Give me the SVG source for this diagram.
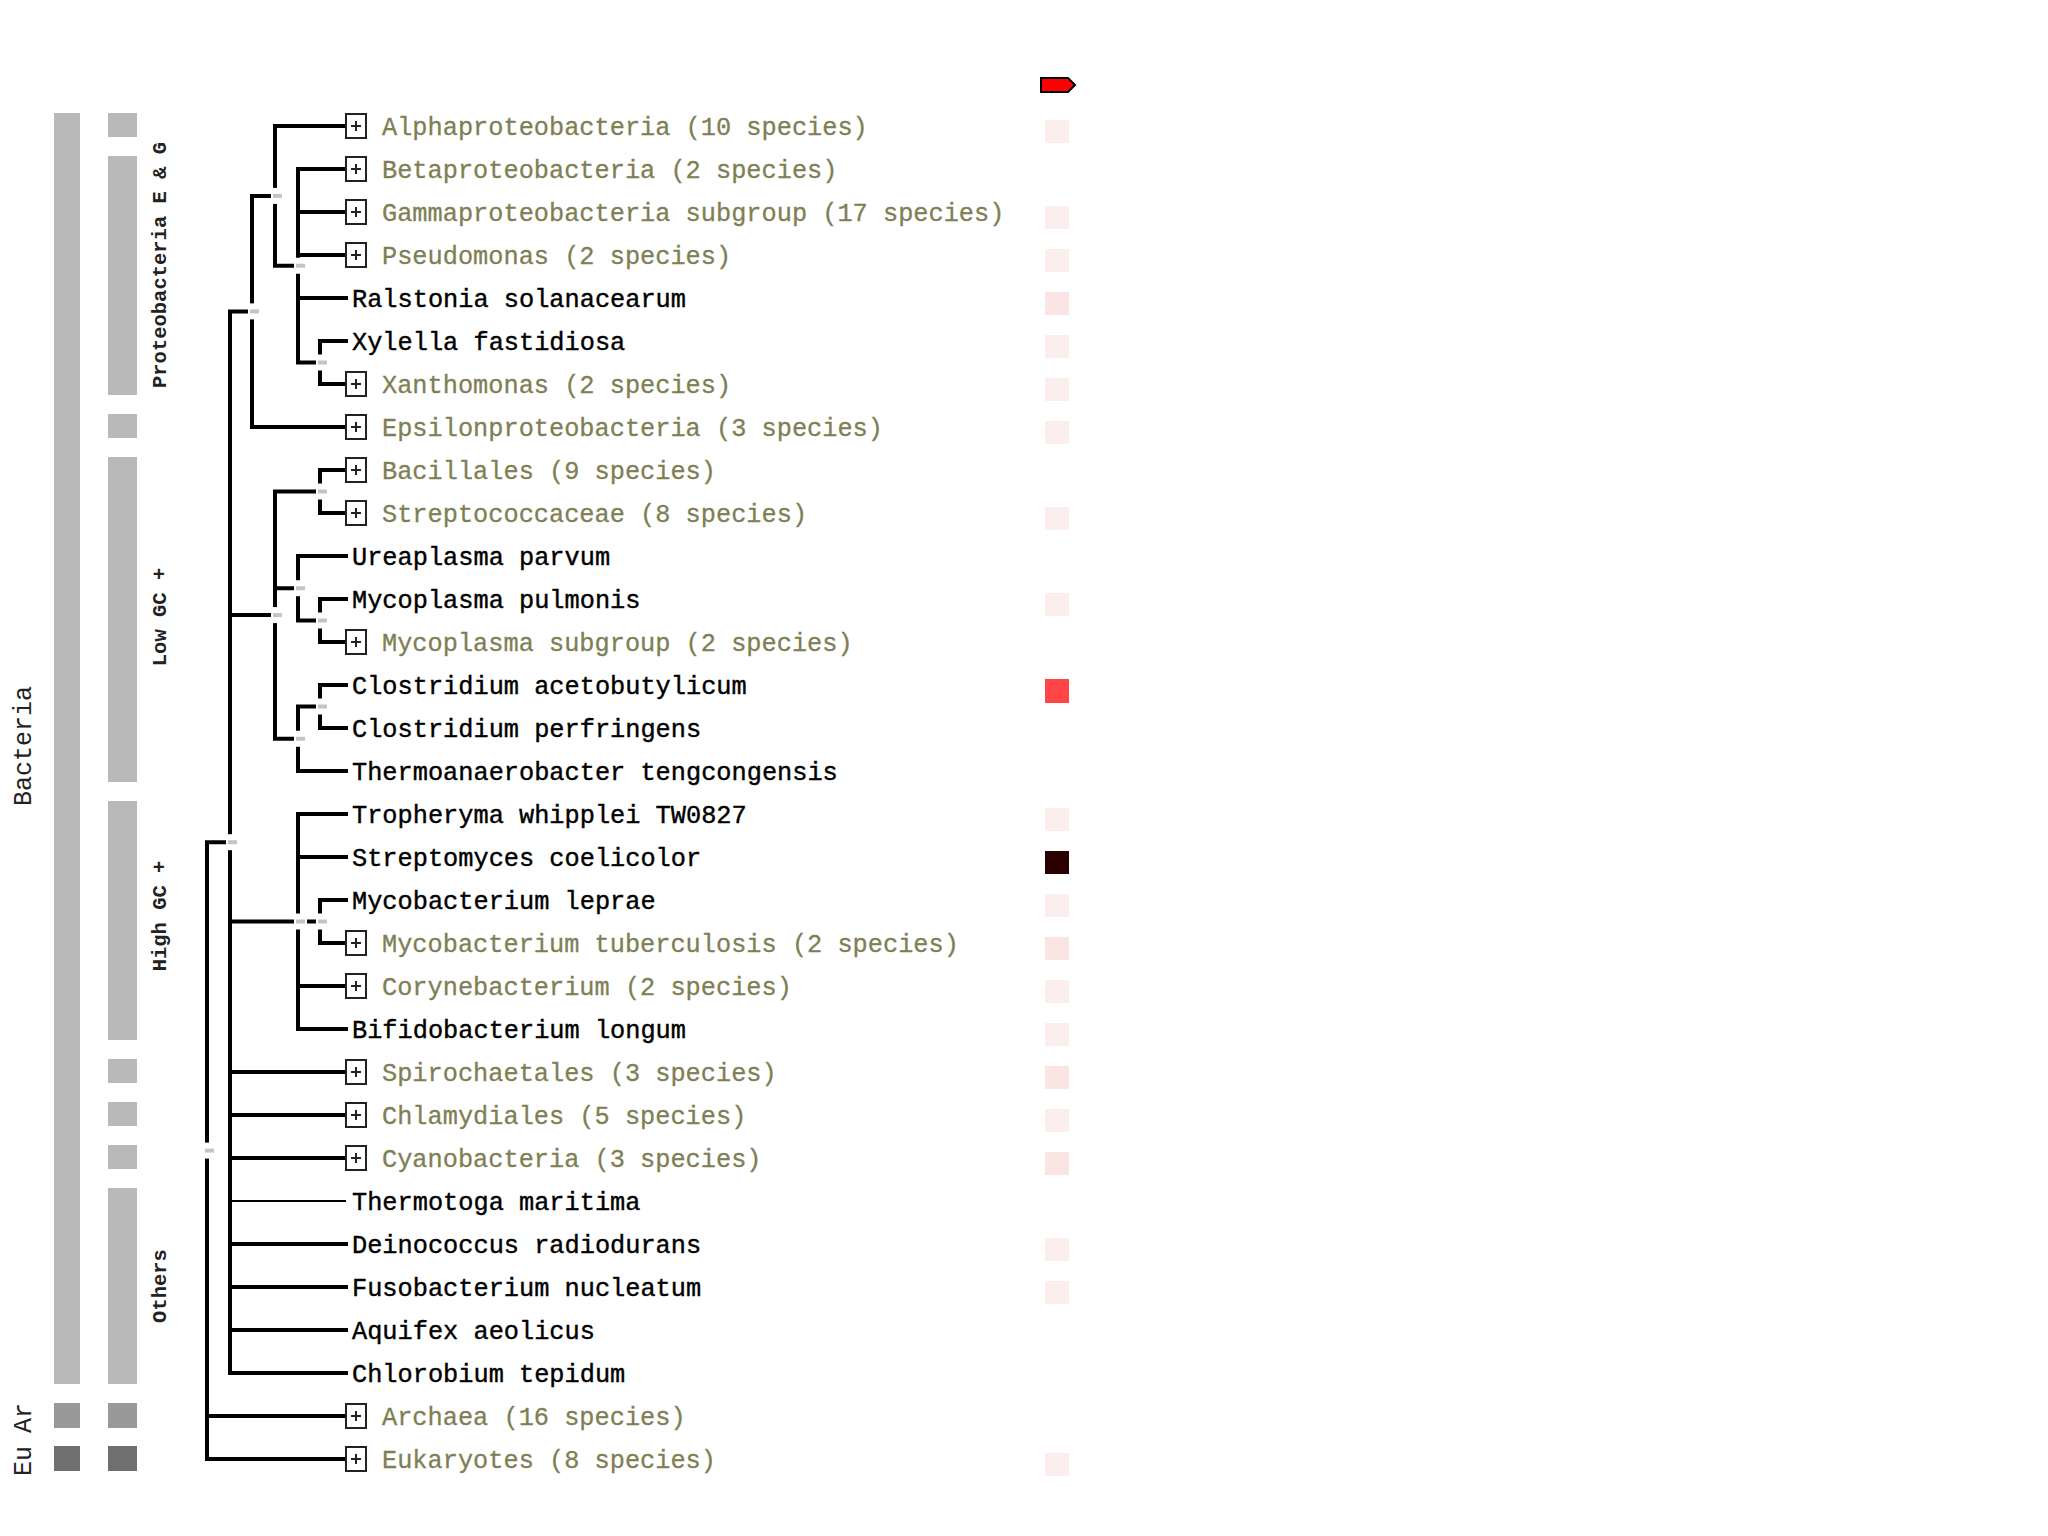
<svg xmlns="http://www.w3.org/2000/svg" width="2048" height="1536" viewBox="0 0 2048 1536">
<style>
.bar{fill:#b9b9b9}
.bar-ar{fill:#999999}
.bar-eu{fill:#6f6f6f}
.side{font-family:"Liberation Mono","DejaVu Sans Mono",monospace;font-size:25px;fill:#222}
.cat{font-family:"Liberation Mono","DejaVu Sans Mono",monospace;font-size:20.5px;font-weight:bold;fill:#222}
.leaf{font-family:"Liberation Mono","DejaVu Sans Mono",monospace;font-size:25.3px;fill:#000;stroke:#000;stroke-width:0.4}
.grp{font-family:"Liberation Mono","DejaVu Sans Mono",monospace;font-size:25.3px;fill:#7f7f55;stroke:#7f7f55;stroke-width:0.3}
.ln{stroke:#000;stroke-width:4;fill:none;stroke-linecap:square}
.thin{stroke:#000;stroke-width:2;fill:none}
.box{fill:#fff;stroke:#222;stroke-width:2}
.plus{stroke:#222;stroke-width:2}
.mk{fill:#fff}
.mkd{fill:#c4c4c4}
.sq{fill:#fdeeee}
.sq2{fill:#fbe4e4}
</style>
<defs>
<g id="expbox"><rect class="box" x="346" y="-12" width="20" height="24"/><path class="plus" d="M351 0H361M356 -5V5"/></g>
<g id="marker"><rect class="mk" x="-4" y="-8" width="13" height="16"/><rect class="mkd" x="-2" y="-2" width="9" height="4"/></g>
</defs>
<rect width="2048" height="1536" fill="#fff"/>

<g id="side-bars">
<rect class="bar" x="54" y="113" width="26" height="1271"/>
<rect class="bar-ar" x="54" y="1403" width="26" height="25"/>
<rect class="bar-eu" x="54" y="1446" width="26" height="25"/>
<rect class="bar" x="108" y="113" width="29" height="24"/>
<rect class="bar" x="108" y="156" width="29" height="239"/>
<rect class="bar" x="108" y="414" width="29" height="24"/>
<rect class="bar" x="108" y="457" width="29" height="325"/>
<rect class="bar" x="108" y="801" width="29" height="239"/>
<rect class="bar" x="108" y="1059" width="29" height="24"/>
<rect class="bar" x="108" y="1102" width="29" height="24"/>
<rect class="bar" x="108" y="1145" width="29" height="24"/>
<rect class="bar" x="108" y="1188" width="29" height="196"/>
<rect class="bar-ar" x="108" y="1403" width="29" height="25"/>
<rect class="bar-eu" x="108" y="1446" width="29" height="25"/>
<text class="side" text-anchor="middle" transform="translate(31,746) rotate(-90)">Bacteria</text>
<text class="side" text-anchor="middle" transform="translate(31,1418) rotate(-90)">Ar</text>
<text class="side" text-anchor="middle" transform="translate(31,1461) rotate(-90)">Eu</text>
<text class="cat" text-anchor="middle" transform="translate(166,265) rotate(-90)">Proteobacteria E &amp; G</text>
<text class="cat" text-anchor="middle" transform="translate(166,617) rotate(-90)">Low GC +</text>
<text class="cat" text-anchor="middle" transform="translate(166,916) rotate(-90)">High GC +</text>
<text class="cat" text-anchor="middle" transform="translate(166,1286) rotate(-90)">Others</text>
</g>

<g id="connectors">
<path class="ln" d="M207 842.2V1459M207 842.2H224M207 1416H346M207 1459H346"/>
<path class="ln" d="M230 311.4V1373M230 311.4H247M230 615.1H270M230 921.5H292M230 1072H346M230 1115H346M230 1158H346M230 1244H346M230 1287H346M230 1330H346M230 1373H346"/>
<path class="thin" d="M230 1201H346"/>
<path class="ln" d="M252 195.9V427M252 195.9H270M252 427H346"/>
<path class="ln" d="M275 126V265.75M275 126H346M275 265.75H293"/>
<path class="ln" d="M298 169V362.5M298 169H346M298 212H346M298 255H346M298 298H346M298 362.5H315"/>
<path class="ln" d="M320 341V384M320 341H346M320 384H346"/>
<path class="ln" d="M275 491.5V738.75M275 491.5H315M275 588.25H293M275 738.75H293"/>
<path class="ln" d="M320 470V513M320 470H346M320 513H346"/>
<path class="ln" d="M298 556V620.5M298 556H346M298 620.5H315"/>
<path class="ln" d="M320 599V642M320 599H346M320 642H346"/>
<path class="ln" d="M298 706.5V771M298 706.5H315M298 771H346"/>
<path class="ln" d="M320 685V728M320 685H346M320 728H346"/>
<path class="ln" d="M298 814V1029M298 814H346M298 857H346M298 921.5H315M298 986H346M298 1029H346"/>
<path class="ln" d="M320 900V943M320 900H346M320 943H346"/>
</g>

<g id="inner-nodes">
<g id="n-root"><use href="#marker" transform="translate(207,1150.6)"/></g>
<g id="n-bacteria"><use href="#marker" transform="translate(230,842.2)"/></g>
<g id="n-proteo"><use href="#marker" transform="translate(252,311.4)"/></g>
<g id="n-proteo-a"><use href="#marker" transform="translate(275,195.9)"/></g>
<g id="n-proteo-b"><use href="#marker" transform="translate(298,265.75)"/></g>
<g id="n-xylxan"><use href="#marker" transform="translate(320,362.5)"/></g>
<g id="n-lowgc"><use href="#marker" transform="translate(275,615.1)"/></g>
<g id="n-bacstrep"><use href="#marker" transform="translate(320,491.5)"/></g>
<g id="n-urea"><use href="#marker" transform="translate(298,588.25)"/></g>
<g id="n-mycosub"><use href="#marker" transform="translate(320,620.5)"/></g>
<g id="n-clost"><use href="#marker" transform="translate(298,738.75)"/></g>
<g id="n-clostpair"><use href="#marker" transform="translate(320,706.5)"/></g>
<g id="n-highgc"><use href="#marker" transform="translate(298,921.5)"/></g>
<g id="n-myco"><use href="#marker" transform="translate(320,921.5)"/></g>
</g>

<g id="leaves">
<g id="l-alpha"><use href="#expbox" y="126"/><text class="grp" x="382" y="135">Alphaproteobacteria (10 species)</text></g>
<g id="l-beta"><use href="#expbox" y="169"/><text class="grp" x="382" y="178">Betaproteobacteria (2 species)</text></g>
<g id="l-gamma"><use href="#expbox" y="212"/><text class="grp" x="382" y="221">Gammaproteobacteria subgroup (17 species)</text></g>
<g id="l-pseudo"><use href="#expbox" y="255"/><text class="grp" x="382" y="264">Pseudomonas (2 species)</text></g>
<g id="l-ralstonia"><text class="leaf" x="352" y="307">Ralstonia solanacearum</text></g>
<g id="l-xylella"><text class="leaf" x="352" y="350">Xylella fastidiosa</text></g>
<g id="l-xanth"><use href="#expbox" y="384"/><text class="grp" x="382" y="393">Xanthomonas (2 species)</text></g>
<g id="l-epsilon"><use href="#expbox" y="427"/><text class="grp" x="382" y="436">Epsilonproteobacteria (3 species)</text></g>
<g id="l-bacillales"><use href="#expbox" y="470"/><text class="grp" x="382" y="479">Bacillales (9 species)</text></g>
<g id="l-strep"><use href="#expbox" y="513"/><text class="grp" x="382" y="522">Streptococcaceae (8 species)</text></g>
<g id="l-urea"><text class="leaf" x="352" y="565">Ureaplasma parvum</text></g>
<g id="l-mpulm"><text class="leaf" x="352" y="608">Mycoplasma pulmonis</text></g>
<g id="l-msub"><use href="#expbox" y="642"/><text class="grp" x="382" y="651">Mycoplasma subgroup (2 species)</text></g>
<g id="l-cacet"><text class="leaf" x="352" y="694">Clostridium acetobutylicum</text></g>
<g id="l-cperf"><text class="leaf" x="352" y="737">Clostridium perfringens</text></g>
<g id="l-thermoan"><text class="leaf" x="352" y="780">Thermoanaerobacter tengcongensis</text></g>
<g id="l-trophe"><text class="leaf" x="352" y="823">Tropheryma whipplei TW0827</text></g>
<g id="l-streptomyces"><text class="leaf" x="352" y="866">Streptomyces coelicolor</text></g>
<g id="l-mlep"><text class="leaf" x="352" y="909">Mycobacterium leprae</text></g>
<g id="l-mtub"><use href="#expbox" y="943"/><text class="grp" x="382" y="952">Mycobacterium tuberculosis (2 species)</text></g>
<g id="l-coryne"><use href="#expbox" y="986"/><text class="grp" x="382" y="995">Corynebacterium (2 species)</text></g>
<g id="l-bifido"><text class="leaf" x="352" y="1038">Bifidobacterium longum</text></g>
<g id="l-spiro"><use href="#expbox" y="1072"/><text class="grp" x="382" y="1081">Spirochaetales (3 species)</text></g>
<g id="l-chlamy"><use href="#expbox" y="1115"/><text class="grp" x="382" y="1124">Chlamydiales (5 species)</text></g>
<g id="l-cyano"><use href="#expbox" y="1158"/><text class="grp" x="382" y="1167">Cyanobacteria (3 species)</text></g>
<g id="l-thermotoga"><text class="leaf" x="352" y="1210">Thermotoga maritima</text></g>
<g id="l-deino"><text class="leaf" x="352" y="1253">Deinococcus radiodurans</text></g>
<g id="l-fuso"><text class="leaf" x="352" y="1296">Fusobacterium nucleatum</text></g>
<g id="l-aquifex"><text class="leaf" x="352" y="1339">Aquifex aeolicus</text></g>
<g id="l-chlorobium"><text class="leaf" x="352" y="1382">Chlorobium tepidum</text></g>
<g id="l-archaea"><use href="#expbox" y="1416"/><text class="grp" x="382" y="1425">Archaea (16 species)</text></g>
<g id="l-euk"><use href="#expbox" y="1459"/><text class="grp" x="382" y="1468">Eukaryotes (8 species)</text></g>
</g>

<g id="heat-column">
<polygon points="1041,78 1068,78 1075,85 1068,92 1041,92" fill="#ff0000" stroke="#000" stroke-width="2"/>
<rect class="sq" x="1045" y="120" width="24" height="23"/>
<rect class="sq" x="1045" y="206" width="24" height="23"/>
<rect class="sq" x="1045" y="249" width="24" height="23"/>
<rect class="sq2" x="1045" y="292" width="24" height="23"/>
<rect class="sq" x="1045" y="335" width="24" height="23"/>
<rect class="sq" x="1045" y="378" width="24" height="23"/>
<rect class="sq" x="1045" y="421" width="24" height="23"/>
<rect class="sq" x="1045" y="507" width="24" height="23"/>
<rect class="sq" x="1045" y="593" width="24" height="23"/>
<rect x="1045" y="679" width="24" height="24" fill="#ff4545"/>
<rect class="sq" x="1045" y="808" width="24" height="23"/>
<rect x="1045" y="851" width="24" height="23" fill="#2a0000"/>
<rect class="sq" x="1045" y="894" width="24" height="23"/>
<rect class="sq2" x="1045" y="937" width="24" height="23"/>
<rect class="sq" x="1045" y="980" width="24" height="23"/>
<rect class="sq" x="1045" y="1023" width="24" height="23"/>
<rect class="sq2" x="1045" y="1066" width="24" height="23"/>
<rect class="sq" x="1045" y="1109" width="24" height="23"/>
<rect class="sq2" x="1045" y="1152" width="24" height="23"/>
<rect class="sq" x="1045" y="1238" width="24" height="23"/>
<rect class="sq" x="1045" y="1281" width="24" height="23"/>
<rect class="sq" x="1045" y="1453" width="24" height="23"/>
</g>
</svg>
